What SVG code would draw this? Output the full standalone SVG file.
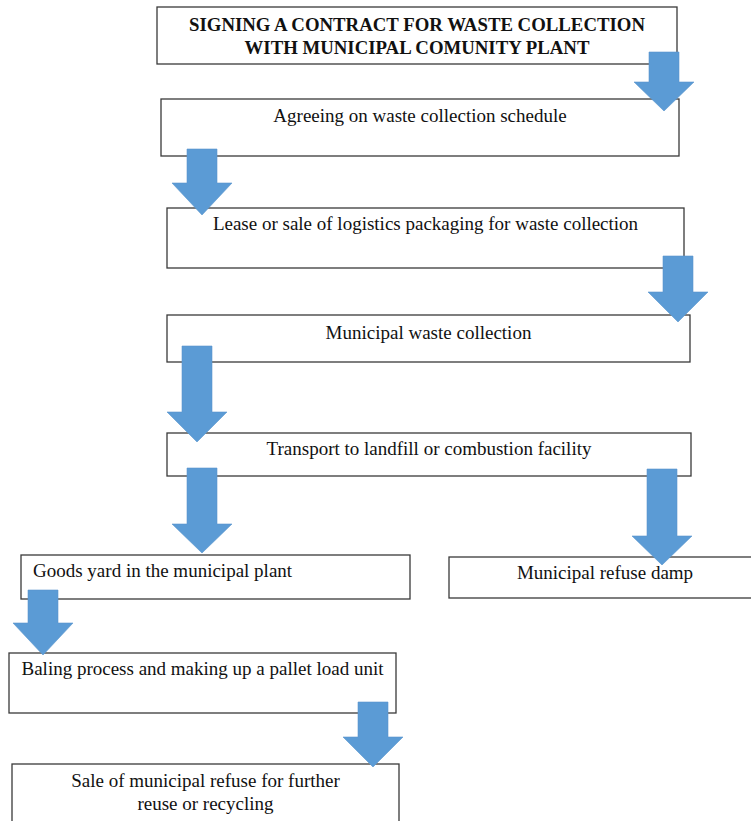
<svg xmlns="http://www.w3.org/2000/svg" width="751" height="821" viewBox="0 0 751 821">
<style>
  .box { fill: #ffffff; stroke: #3a3a3a; stroke-width: 1.3; }
  .t { font-family: "Liberation Serif", "Times New Roman", serif; font-size: 19px; fill: #111; }
  .tb { font-family: "Liberation Serif", "Times New Roman", serif; font-size: 18.8px; font-weight: bold; fill: #111; }
  .c { text-anchor: middle; }
  .arrow { fill: #5b9bd5; stroke: #5a95cc; stroke-width: 0.6; }
</style>
<rect width="751" height="821" fill="#ffffff"/>

<g id="node-contract">
  <rect class="box" x="157" y="7" width="520" height="57"/>
  <text class="tb c" x="417" y="31">SIGNING A CONTRACT FOR WASTE COLLECTION</text>
  <text class="tb c" x="417" y="54">WITH MUNICIPAL COMUNITY PLANT</text>
</g>
<g id="node-schedule">
  <rect class="box" x="161" y="99" width="518" height="57"/>
  <text class="t c" x="420" y="122">Agreeing on waste collection schedule</text>
</g>
<g id="node-packaging">
  <rect class="box" x="167" y="208" width="517" height="60"/>
  <text class="t c" x="425.5" y="230">Lease or sale of logistics packaging for waste collection</text>
</g>
<g id="node-collection">
  <rect class="box" x="167" y="315" width="523" height="47"/>
  <text class="t c" x="428.5" y="339">Municipal waste collection</text>
</g>
<g id="node-transport">
  <rect class="box" x="167" y="433" width="524" height="43"/>
  <text class="t c" x="429" y="455">Transport to landfill or combustion facility</text>
</g>
<g id="node-goods-yard">
  <rect class="box" x="21" y="555" width="389" height="44"/>
  <text class="t" x="33" y="577">Goods yard in the municipal plant</text>
</g>
<g id="node-refuse-damp">
  <rect class="box" x="449" y="557" width="312" height="41"/>
  <text class="t c" x="605" y="579">Municipal refuse damp</text>
</g>
<g id="node-baling">
  <rect class="box" x="9" y="653" width="387" height="60"/>
  <text class="t c" x="202.5" y="675">Baling process and making up a pallet load unit</text>
</g>
<g id="node-sale">
  <rect class="box" x="12" y="764" width="387" height="70"/>
  <text class="t c" x="205.5" y="787">Sale of municipal refuse for further</text>
  <text class="t c" x="205.5" y="810">reuse or recycling</text>
</g>

<g id="connectors">
  <path class="arrow" d="M 649 52 L 679 52 L 679 82 L 694 82 L 664 111 L 634 82 L 649 82 Z"/>
  <path class="arrow" d="M 187 149 L 217 149 L 217 183 L 232 183 L 202 215 L 172 183 L 187 183 Z"/>
  <path class="arrow" d="M 663 256 L 693 256 L 693 292 L 708 292 L 678 322 L 648 292 L 663 292 Z"/>
  <path class="arrow" d="M 182 346 L 212 346 L 212 412 L 227 412 L 197 442 L 167 412 L 182 412 Z"/>
  <path class="arrow" d="M 187 468 L 217 468 L 217 524 L 232 524 L 202 553 L 172 524 L 187 524 Z"/>
  <path class="arrow" d="M 647 469 L 677 469 L 677 536 L 692 536 L 662 565 L 632 536 L 647 536 Z"/>
  <path class="arrow" d="M 28 590 L 58 590 L 58 623 L 73 623 L 43 655 L 13 623 L 28 623 Z"/>
  <path class="arrow" d="M 358 702 L 388 702 L 388 737 L 403 737 L 373 767 L 343 737 L 358 737 Z"/>
</g>
</svg>
